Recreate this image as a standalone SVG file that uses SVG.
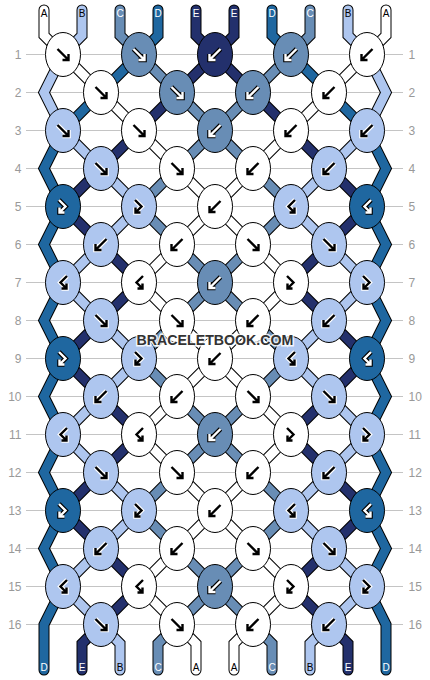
<svg xmlns="http://www.w3.org/2000/svg" xmlns:xlink="http://www.w3.org/1999/xlink" width="430" height="680" viewBox="0 0 430 680">
<style>
polyline{fill:none}
.so{stroke:#000;stroke-width:11;stroke-linejoin:miter;stroke-linecap:round}
.sf{stroke-width:9;stroke-linejoin:miter;stroke-linecap:round}
.k{stroke:#000;stroke-width:1}
.cA{fill:#ffffff}.cB{fill:#aec6ef}.cC{fill:#688db5}.cD{fill:#1f67a0}.cE{fill:#23306c}
.h{fill:none;stroke-width:4.6;stroke-linejoin:miter}
.m{fill:none;stroke:currentColor;stroke-width:2.4;stroke-linejoin:miter}
.ak{stroke:#ffffff;color:#000000}
.aw{stroke:#000000;color:#ffffff}
.grid line{stroke:#c4c4c4;stroke-width:1}
.rn{font-family:"Liberation Sans",Arial,sans-serif;font-size:12px;fill:#999}
.sl{font-family:"Liberation Sans",Arial,sans-serif;font-size:10px;text-anchor:middle}
.wm{font-family:"Liberation Sans",Arial,sans-serif;font-weight:bold;font-size:14.2px;text-anchor:middle;fill:#333;stroke:#fff;stroke-width:3;stroke-opacity:0.85;paint-order:stroke}
</style>
<defs>
<g id="af"><path class="h" d="M-5.5,-5.5 L5.5,5.5 M-0.5,5.5 H5.5 V-0.5"/><path class="m" d="M-5.5,-5.5 L5.5,5.5 M-0.5,5.5 H5.5 V-0.5"/></g>
<g id="ab"><path class="h" d="M5.5,-5.5 L-5.5,5.5 M0.5,5.5 H-5.5 V-0.5"/><path class="m" d="M5.5,-5.5 L-5.5,5.5 M0.5,5.5 H-5.5 V-0.5"/></g>
<g id="afb"><path class="h" d="M-4,-6.5 L2.5,0 L-3.5,6 M-3.5,1 V6 H1.5"/><path class="m" d="M-4,-6.5 L2.5,0 L-3.5,6 M-3.5,1 V6 H1.5"/></g>
<g id="abf"><path class="h" d="M4,-6.5 L-2.5,0 L3.5,6 M3.5,1 V6 H-1.5"/><path class="m" d="M4,-6.5 L-2.5,0 L3.5,6 M3.5,1 V6 H-1.5"/></g>
<polyline id="p0" points="44,10 44,35.5 63,54.5 101,92.5 139,130.5 177,168.5 215,206.5 253,244.5 291,282.5 253,320.5 215,358.5 177,396.5 139,434.5 177,472.5 215,510.5 253,548.5 291,586.5 253,624.5 234,643.5 234,670"/>
<polyline id="p1" points="82,10 82,35.5 63,54.5 44,92.5 63,130.5 101,168.5 139,206.5 101,244.5 63,282.5 101,320.5 139,358.5 101,396.5 63,434.5 101,472.5 139,510.5 101,548.5 63,586.5 101,624.5 120,643.5 120,670"/>
<polyline id="p2" points="120,10 120,35.5 139,54.5 177,92.5 215,130.5 253,168.5 291,206.5 253,244.5 215,282.5 177,320.5 139,358.5 177,396.5 215,434.5 253,472.5 291,510.5 253,548.5 215,586.5 177,624.5 158,643.5 158,670"/>
<polyline id="p3" points="158,10 158,35.5 139,54.5 101,92.5 63,130.5 44,168.5 63,206.5 44,244.5 63,282.5 44,320.5 63,358.5 44,396.5 63,434.5 44,472.5 63,510.5 44,548.5 63,586.5 44,624.5 44,670"/>
<polyline id="p4" points="196,10 196,35.5 215,54.5 253,92.5 291,130.5 329,168.5 367,206.5 329,244.5 291,282.5 329,320.5 367,358.5 329,396.5 291,434.5 329,472.5 367,510.5 329,548.5 291,586.5 329,624.5 348,643.5 348,670"/>
<polyline id="p5" points="234,10 234,35.5 215,54.5 177,92.5 139,130.5 101,168.5 63,206.5 101,244.5 139,282.5 101,320.5 63,358.5 101,396.5 139,434.5 101,472.5 63,510.5 101,548.5 139,586.5 101,624.5 82,643.5 82,670"/>
<polyline id="p6" points="272,10 272,35.5 291,54.5 329,92.5 367,130.5 386,168.5 367,206.5 386,244.5 367,282.5 386,320.5 367,358.5 386,396.5 367,434.5 386,472.5 367,510.5 386,548.5 367,586.5 386,624.5 386,670"/>
<polyline id="p7" points="310,10 310,35.5 291,54.5 253,92.5 215,130.5 177,168.5 139,206.5 177,244.5 215,282.5 253,320.5 291,358.5 253,396.5 215,434.5 177,472.5 139,510.5 177,548.5 215,586.5 253,624.5 272,643.5 272,670"/>
<polyline id="p8" points="348,10 348,35.5 367,54.5 386,92.5 367,130.5 329,168.5 291,206.5 329,244.5 367,282.5 329,320.5 291,358.5 329,396.5 367,434.5 329,472.5 291,510.5 329,548.5 367,586.5 329,624.5 310,643.5 310,670"/>
<polyline id="p9" points="386,10 386,35.5 367,54.5 329,92.5 291,130.5 253,168.5 215,206.5 177,244.5 139,282.5 177,320.5 215,358.5 253,396.5 291,434.5 253,472.5 215,510.5 177,548.5 139,586.5 177,624.5 196,643.5 196,670"/>
</defs>
<rect width="430" height="680" fill="#ffffff"/>
<g class="grid">
<line x1="26" y1="54.5" x2="403" y2="54.5"/><line x1="26" y1="92.5" x2="403" y2="92.5"/><line x1="26" y1="130.5" x2="403" y2="130.5"/><line x1="26" y1="168.5" x2="403" y2="168.5"/>
<line x1="26" y1="206.5" x2="403" y2="206.5"/><line x1="26" y1="244.5" x2="403" y2="244.5"/><line x1="26" y1="282.5" x2="403" y2="282.5"/><line x1="26" y1="320.5" x2="403" y2="320.5"/>
<line x1="26" y1="358.5" x2="403" y2="358.5"/><line x1="26" y1="396.5" x2="403" y2="396.5"/><line x1="26" y1="434.5" x2="403" y2="434.5"/><line x1="26" y1="472.5" x2="403" y2="472.5"/>
<line x1="26" y1="510.5" x2="403" y2="510.5"/><line x1="26" y1="548.5" x2="403" y2="548.5"/><line x1="26" y1="586.5" x2="403" y2="586.5"/><line x1="26" y1="624.5" x2="403" y2="624.5"/>
</g>
<g id="row-numbers" class="rn">
<g text-anchor="end">
<text x="21.5" y="58.8">1</text><text x="21.5" y="96.8">2</text><text x="21.5" y="134.8">3</text><text x="21.5" y="172.8">4</text>
<text x="21.5" y="210.8">5</text><text x="21.5" y="248.8">6</text><text x="21.5" y="286.8">7</text><text x="21.5" y="324.8">8</text>
<text x="21.5" y="362.8">9</text><text x="21.5" y="400.8">10</text><text x="21.5" y="438.8">11</text><text x="21.5" y="476.8">12</text>
<text x="21.5" y="514.8">13</text><text x="21.5" y="552.8">14</text><text x="21.5" y="590.8">15</text><text x="21.5" y="628.8">16</text>
</g>
<g text-anchor="start">
<text x="408.5" y="58.8">1</text><text x="408.5" y="96.8">2</text><text x="408.5" y="134.8">3</text><text x="408.5" y="172.8">4</text>
<text x="408.5" y="210.8">5</text><text x="408.5" y="248.8">6</text><text x="408.5" y="286.8">7</text><text x="408.5" y="324.8">8</text>
<text x="408.5" y="362.8">9</text><text x="408.5" y="400.8">10</text><text x="408.5" y="438.8">11</text><text x="408.5" y="476.8">12</text>
<text x="408.5" y="514.8">13</text><text x="408.5" y="552.8">14</text><text x="408.5" y="590.8">15</text><text x="408.5" y="628.8">16</text>
</g>
</g>
<g id="strings">
<g class="so">
<use href="#p0"/><use href="#p1"/><use href="#p2"/><use href="#p3"/><use href="#p4"/><use href="#p5"/><use href="#p6"/><use href="#p7"/><use href="#p8"/><use href="#p9"/>
</g>
<g class="sf">
<use href="#p0" stroke="#ffffff"/><use href="#p1" stroke="#aec6ef"/><use href="#p2" stroke="#688db5"/><use href="#p3" stroke="#1f67a0"/><use href="#p4" stroke="#23306c"/>
<use href="#p5" stroke="#23306c"/><use href="#p6" stroke="#1f67a0"/><use href="#p7" stroke="#688db5"/><use href="#p8" stroke="#aec6ef"/><use href="#p9" stroke="#ffffff"/>
</g>
</g>
<g id="string-labels" class="sl">
<text x="44" y="16.5" fill="#000">A</text><text x="82" y="16.5" fill="#000">B</text><text x="120" y="16.5" fill="#fff">C</text><text x="158" y="16.5" fill="#fff">D</text><text x="196" y="16.5" fill="#fff">E</text>
<text x="234" y="16.5" fill="#fff">E</text><text x="272" y="16.5" fill="#fff">D</text><text x="310" y="16.5" fill="#fff">C</text><text x="348" y="16.5" fill="#000">B</text><text x="386" y="16.5" fill="#000">A</text>
<text x="44" y="671" fill="#fff">D</text><text x="82" y="671" fill="#fff">E</text><text x="120" y="671" fill="#000">B</text><text x="158" y="671" fill="#fff">C</text><text x="196" y="671" fill="#000">A</text>
<text x="234" y="671" fill="#000">A</text><text x="272" y="671" fill="#fff">C</text><text x="310" y="671" fill="#000">B</text><text x="348" y="671" fill="#fff">E</text><text x="386" y="671" fill="#fff">D</text>
</g>
<g id="knots">
<g id="k1-1"><ellipse class="k cA" cx="63" cy="54.5" rx="17.5" ry="22"/><use href="#af" x="63" y="54.5" class="ak"/></g>
<g id="k1-2"><ellipse class="k cC" cx="139" cy="54.5" rx="17.5" ry="22"/><use href="#af" x="139" y="54.5" class="aw"/></g>
<g id="k1-3"><ellipse class="k cE" cx="215" cy="54.5" rx="17.5" ry="22"/><use href="#ab" x="215" y="54.5" class="aw"/></g>
<g id="k1-4"><ellipse class="k cC" cx="291" cy="54.5" rx="17.5" ry="22"/><use href="#ab" x="291" y="54.5" class="aw"/></g>
<g id="k1-5"><ellipse class="k cA" cx="367" cy="54.5" rx="17.5" ry="22"/><use href="#ab" x="367" y="54.5" class="ak"/></g>
<g id="k2-1"><ellipse class="k cA" cx="101" cy="92.5" rx="17.5" ry="22"/><use href="#af" x="101" y="92.5" class="ak"/></g>
<g id="k2-2"><ellipse class="k cC" cx="177" cy="92.5" rx="17.5" ry="22"/><use href="#af" x="177" y="92.5" class="aw"/></g>
<g id="k2-3"><ellipse class="k cC" cx="253" cy="92.5" rx="17.5" ry="22"/><use href="#ab" x="253" y="92.5" class="aw"/></g>
<g id="k2-4"><ellipse class="k cA" cx="329" cy="92.5" rx="17.5" ry="22"/><use href="#ab" x="329" y="92.5" class="ak"/></g>
<g id="k3-1"><ellipse class="k cB" cx="63" cy="130.5" rx="17.5" ry="22"/><use href="#af" x="63" y="130.5" class="ak"/></g>
<g id="k3-2"><ellipse class="k cA" cx="139" cy="130.5" rx="17.5" ry="22"/><use href="#af" x="139" y="130.5" class="ak"/></g>
<g id="k3-3"><ellipse class="k cC" cx="215" cy="130.5" rx="17.5" ry="22"/><use href="#ab" x="215" y="130.5" class="aw"/></g>
<g id="k3-4"><ellipse class="k cA" cx="291" cy="130.5" rx="17.5" ry="22"/><use href="#ab" x="291" y="130.5" class="ak"/></g>
<g id="k3-5"><ellipse class="k cB" cx="367" cy="130.5" rx="17.5" ry="22"/><use href="#ab" x="367" y="130.5" class="ak"/></g>
<g id="k4-1"><ellipse class="k cB" cx="101" cy="168.5" rx="17.5" ry="22"/><use href="#af" x="101" y="168.5" class="ak"/></g>
<g id="k4-2"><ellipse class="k cA" cx="177" cy="168.5" rx="17.5" ry="22"/><use href="#af" x="177" y="168.5" class="ak"/></g>
<g id="k4-3"><ellipse class="k cA" cx="253" cy="168.5" rx="17.5" ry="22"/><use href="#ab" x="253" y="168.5" class="ak"/></g>
<g id="k4-4"><ellipse class="k cB" cx="329" cy="168.5" rx="17.5" ry="22"/><use href="#ab" x="329" y="168.5" class="ak"/></g>
<g id="k5-1"><ellipse class="k cD" cx="63" cy="206.5" rx="17.5" ry="22"/><use href="#afb" x="63" y="206.5" class="aw"/></g>
<g id="k5-2"><ellipse class="k cB" cx="139" cy="206.5" rx="17.5" ry="22"/><use href="#afb" x="139" y="206.5" class="ak"/></g>
<g id="k5-3"><ellipse class="k cA" cx="215" cy="206.5" rx="17.5" ry="22"/><use href="#ab" x="215" y="206.5" class="ak"/></g>
<g id="k5-4"><ellipse class="k cB" cx="291" cy="206.5" rx="17.5" ry="22"/><use href="#abf" x="291" y="206.5" class="ak"/></g>
<g id="k5-5"><ellipse class="k cD" cx="367" cy="206.5" rx="17.5" ry="22"/><use href="#abf" x="367" y="206.5" class="aw"/></g>
<g id="k6-1"><ellipse class="k cB" cx="101" cy="244.5" rx="17.5" ry="22"/><use href="#ab" x="101" y="244.5" class="ak"/></g>
<g id="k6-2"><ellipse class="k cA" cx="177" cy="244.5" rx="17.5" ry="22"/><use href="#ab" x="177" y="244.5" class="ak"/></g>
<g id="k6-3"><ellipse class="k cA" cx="253" cy="244.5" rx="17.5" ry="22"/><use href="#af" x="253" y="244.5" class="ak"/></g>
<g id="k6-4"><ellipse class="k cB" cx="329" cy="244.5" rx="17.5" ry="22"/><use href="#af" x="329" y="244.5" class="ak"/></g>
<g id="k7-1"><ellipse class="k cB" cx="63" cy="282.5" rx="17.5" ry="22"/><use href="#abf" x="63" y="282.5" class="ak"/></g>
<g id="k7-2"><ellipse class="k cA" cx="139" cy="282.5" rx="17.5" ry="22"/><use href="#abf" x="139" y="282.5" class="ak"/></g>
<g id="k7-3"><ellipse class="k cC" cx="215" cy="282.5" rx="17.5" ry="22"/><use href="#ab" x="215" y="282.5" class="aw"/></g>
<g id="k7-4"><ellipse class="k cA" cx="291" cy="282.5" rx="17.5" ry="22"/><use href="#afb" x="291" y="282.5" class="ak"/></g>
<g id="k7-5"><ellipse class="k cB" cx="367" cy="282.5" rx="17.5" ry="22"/><use href="#afb" x="367" y="282.5" class="ak"/></g>
<g id="k8-1"><ellipse class="k cB" cx="101" cy="320.5" rx="17.5" ry="22"/><use href="#af" x="101" y="320.5" class="ak"/></g>
<g id="k8-2"><ellipse class="k cA" cx="177" cy="320.5" rx="17.5" ry="22"/><use href="#af" x="177" y="320.5" class="ak"/></g>
<g id="k8-3"><ellipse class="k cA" cx="253" cy="320.5" rx="17.5" ry="22"/><use href="#ab" x="253" y="320.5" class="ak"/></g>
<g id="k8-4"><ellipse class="k cB" cx="329" cy="320.5" rx="17.5" ry="22"/><use href="#ab" x="329" y="320.5" class="ak"/></g>
<g id="k9-1"><ellipse class="k cD" cx="63" cy="358.5" rx="17.5" ry="22"/><use href="#afb" x="63" y="358.5" class="aw"/></g>
<g id="k9-2"><ellipse class="k cB" cx="139" cy="358.5" rx="17.5" ry="22"/><use href="#afb" x="139" y="358.5" class="ak"/></g>
<g id="k9-3"><ellipse class="k cA" cx="215" cy="358.5" rx="17.5" ry="22"/><use href="#ab" x="215" y="358.5" class="ak"/></g>
<g id="k9-4"><ellipse class="k cB" cx="291" cy="358.5" rx="17.5" ry="22"/><use href="#abf" x="291" y="358.5" class="ak"/></g>
<g id="k9-5"><ellipse class="k cD" cx="367" cy="358.5" rx="17.5" ry="22"/><use href="#abf" x="367" y="358.5" class="aw"/></g>
<g id="k10-1"><ellipse class="k cB" cx="101" cy="396.5" rx="17.5" ry="22"/><use href="#ab" x="101" y="396.5" class="ak"/></g>
<g id="k10-2"><ellipse class="k cA" cx="177" cy="396.5" rx="17.5" ry="22"/><use href="#ab" x="177" y="396.5" class="ak"/></g>
<g id="k10-3"><ellipse class="k cA" cx="253" cy="396.5" rx="17.5" ry="22"/><use href="#af" x="253" y="396.5" class="ak"/></g>
<g id="k10-4"><ellipse class="k cB" cx="329" cy="396.5" rx="17.5" ry="22"/><use href="#af" x="329" y="396.5" class="ak"/></g>
<g id="k11-1"><ellipse class="k cB" cx="63" cy="434.5" rx="17.5" ry="22"/><use href="#abf" x="63" y="434.5" class="ak"/></g>
<g id="k11-2"><ellipse class="k cA" cx="139" cy="434.5" rx="17.5" ry="22"/><use href="#abf" x="139" y="434.5" class="ak"/></g>
<g id="k11-3"><ellipse class="k cC" cx="215" cy="434.5" rx="17.5" ry="22"/><use href="#ab" x="215" y="434.5" class="aw"/></g>
<g id="k11-4"><ellipse class="k cA" cx="291" cy="434.5" rx="17.5" ry="22"/><use href="#afb" x="291" y="434.5" class="ak"/></g>
<g id="k11-5"><ellipse class="k cB" cx="367" cy="434.5" rx="17.5" ry="22"/><use href="#afb" x="367" y="434.5" class="ak"/></g>
<g id="k12-1"><ellipse class="k cB" cx="101" cy="472.5" rx="17.5" ry="22"/><use href="#af" x="101" y="472.5" class="ak"/></g>
<g id="k12-2"><ellipse class="k cA" cx="177" cy="472.5" rx="17.5" ry="22"/><use href="#af" x="177" y="472.5" class="ak"/></g>
<g id="k12-3"><ellipse class="k cA" cx="253" cy="472.5" rx="17.5" ry="22"/><use href="#ab" x="253" y="472.5" class="ak"/></g>
<g id="k12-4"><ellipse class="k cB" cx="329" cy="472.5" rx="17.5" ry="22"/><use href="#ab" x="329" y="472.5" class="ak"/></g>
<g id="k13-1"><ellipse class="k cD" cx="63" cy="510.5" rx="17.5" ry="22"/><use href="#afb" x="63" y="510.5" class="aw"/></g>
<g id="k13-2"><ellipse class="k cB" cx="139" cy="510.5" rx="17.5" ry="22"/><use href="#afb" x="139" y="510.5" class="ak"/></g>
<g id="k13-3"><ellipse class="k cA" cx="215" cy="510.5" rx="17.5" ry="22"/><use href="#ab" x="215" y="510.5" class="ak"/></g>
<g id="k13-4"><ellipse class="k cB" cx="291" cy="510.5" rx="17.5" ry="22"/><use href="#abf" x="291" y="510.5" class="ak"/></g>
<g id="k13-5"><ellipse class="k cD" cx="367" cy="510.5" rx="17.5" ry="22"/><use href="#abf" x="367" y="510.5" class="aw"/></g>
<g id="k14-1"><ellipse class="k cB" cx="101" cy="548.5" rx="17.5" ry="22"/><use href="#ab" x="101" y="548.5" class="ak"/></g>
<g id="k14-2"><ellipse class="k cA" cx="177" cy="548.5" rx="17.5" ry="22"/><use href="#ab" x="177" y="548.5" class="ak"/></g>
<g id="k14-3"><ellipse class="k cA" cx="253" cy="548.5" rx="17.5" ry="22"/><use href="#af" x="253" y="548.5" class="ak"/></g>
<g id="k14-4"><ellipse class="k cB" cx="329" cy="548.5" rx="17.5" ry="22"/><use href="#af" x="329" y="548.5" class="ak"/></g>
<g id="k15-1"><ellipse class="k cB" cx="63" cy="586.5" rx="17.5" ry="22"/><use href="#abf" x="63" y="586.5" class="ak"/></g>
<g id="k15-2"><ellipse class="k cA" cx="139" cy="586.5" rx="17.5" ry="22"/><use href="#abf" x="139" y="586.5" class="ak"/></g>
<g id="k15-3"><ellipse class="k cC" cx="215" cy="586.5" rx="17.5" ry="22"/><use href="#ab" x="215" y="586.5" class="aw"/></g>
<g id="k15-4"><ellipse class="k cA" cx="291" cy="586.5" rx="17.5" ry="22"/><use href="#afb" x="291" y="586.5" class="ak"/></g>
<g id="k15-5"><ellipse class="k cB" cx="367" cy="586.5" rx="17.5" ry="22"/><use href="#afb" x="367" y="586.5" class="ak"/></g>
<g id="k16-1"><ellipse class="k cB" cx="101" cy="624.5" rx="17.5" ry="22"/><use href="#af" x="101" y="624.5" class="ak"/></g>
<g id="k16-2"><ellipse class="k cA" cx="177" cy="624.5" rx="17.5" ry="22"/><use href="#af" x="177" y="624.5" class="ak"/></g>
<g id="k16-3"><ellipse class="k cA" cx="253" cy="624.5" rx="17.5" ry="22"/><use href="#ab" x="253" y="624.5" class="ak"/></g>
<g id="k16-4"><ellipse class="k cB" cx="329" cy="624.5" rx="17.5" ry="22"/><use href="#ab" x="329" y="624.5" class="ak"/></g>
</g>
<text class="wm" x="215" y="345">BRACELETBOOK.COM</text>
</svg>
